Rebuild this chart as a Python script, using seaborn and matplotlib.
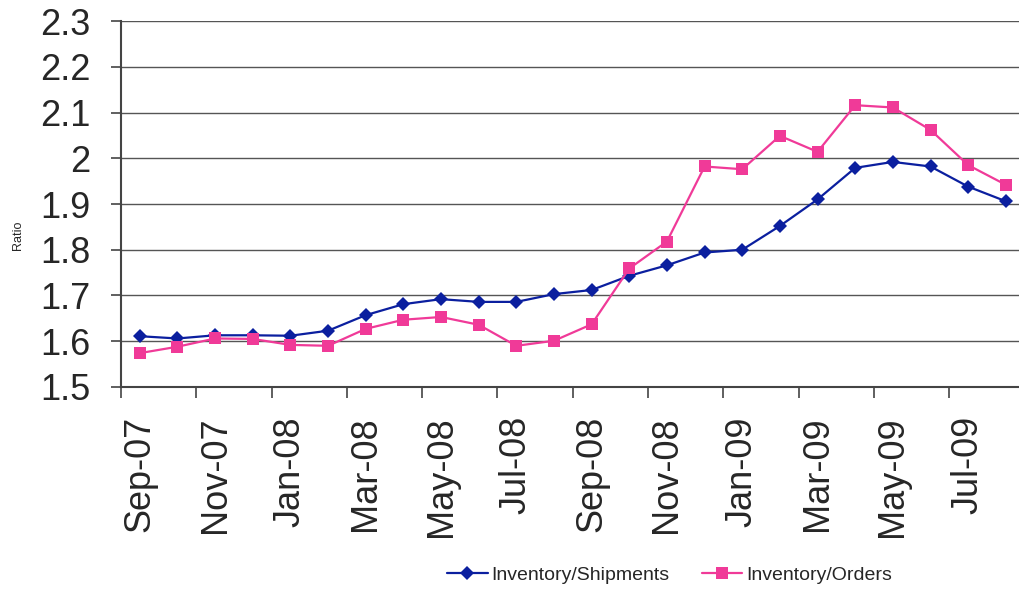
import pandas as pd
import numpy as np
import matplotlib
matplotlib.use("Agg")
import matplotlib.pyplot as plt
import seaborn as sns
from matplotlib.ticker import FixedLocator, FuncFormatter

# Monthly data, Sep-07 .. Aug-09
months = ["Sep-07", "Oct-07", "Nov-07", "Dec-07", "Jan-08", "Feb-08", "Mar-08", "Apr-08",
          "May-08", "Jun-08", "Jul-08", "Aug-08", "Sep-08", "Oct-08", "Nov-08", "Dec-08",
          "Jan-09", "Feb-09", "Mar-09", "Apr-09", "May-09", "Jun-09", "Jul-09", "Aug-09"]
inv_shipments = [1.611, 1.606, 1.613, 1.613, 1.612, 1.623, 1.657, 1.681,
                 1.692, 1.686, 1.686, 1.703, 1.712, 1.743, 1.766, 1.794,
                 1.800, 1.852, 1.910, 1.979, 1.992, 1.982, 1.938, 1.906]
inv_orders = [1.574, 1.588, 1.606, 1.605, 1.592, 1.590, 1.627, 1.647,
              1.653, 1.636, 1.590, 1.601, 1.637, 1.759, 1.818, 1.982,
              1.976, 2.049, 2.014, 2.116, 2.111, 2.062, 1.985, 1.942]

df = pd.DataFrame({
    "idx": list(range(len(months))) * 2,
    "Ratio": inv_shipments + inv_orders,
    "Series": ["Inventory/Shipments"] * len(months) + ["Inventory/Orders"] * len(months),
})

sns.set_style("white")
plt.rcParams["font.family"] = ["Liberation Sans", "DejaVu Sans"]

fig = plt.figure(figsize=(10.19, 5.89), dpi=100)
ax = fig.add_axes([0.1187, 0.343, 0.8813, 0.6213])

colors = {"Inventory/Shipments": "#0B1F9F", "Inventory/Orders": "#F03A98"}
markers = {"Inventory/Shipments": "D", "Inventory/Orders": "s"}
sns.lineplot(data=df, x="idx", y="Ratio", hue="Series", style="Series",
             palette=colors, markers=markers, dashes=False, ax=ax,
             linewidth=1.6, markersize=8, markeredgewidth=0)
# square a bit larger than diamond
for line in ax.get_lines():
    if line.get_marker() == "s":
        line.set_markersize(9)
    elif line.get_marker() == "D":
        line.set_markersize(7)

ax.set_xlim(-0.5, 23.35)
ax.set_ylim(1.5, 2.3)
ax.set_yticks(np.arange(1.5, 2.31, 0.1))
ax.yaxis.set_major_formatter(FuncFormatter(lambda v, p: f"{round(v, 1):g}"))
ax.grid(axis="y", color="#555555", linewidth=1)
ax.set_axisbelow(True)

# labels every other month, tick marks between categories
ax.set_xticks(range(0, len(months), 2))
ax.set_xticklabels(months[::2], rotation=90)
ax.xaxis.set_minor_locator(FixedLocator(np.arange(-0.5, 24, 2)))
ax.tick_params(axis="x", which="major", length=0, labelsize=26, pad=21)
ax.tick_params(axis="x", which="minor", length=8, width=1.2, color="#444444", bottom=True)
ax.tick_params(axis="y", length=7, width=1.2, color="#444444", labelsize=26, left=True, pad=15)

for s in ["top", "right"]:
    ax.spines[s].set_visible(False)
for s in ["left", "bottom"]:
    ax.spines[s].set_color("#444444")
    ax.spines[s].set_linewidth(1.5)

ax.set_xlabel("")
ax.set_ylabel("")
fig.text(0.018, 0.601, "Ratio", rotation=90, ha="center", va="center", fontsize=9)

handles, labels = ax.get_legend_handles_labels()
ax.get_legend().remove()
fig.legend(handles, labels, loc="center", bbox_to_anchor=(0.657, 0.024), ncol=2,
           frameon=False, fontsize=14, handlelength=2.1, columnspacing=1.65,
           handletextpad=0.2, borderaxespad=0)

fig.savefig("out.png", dpi=100)
